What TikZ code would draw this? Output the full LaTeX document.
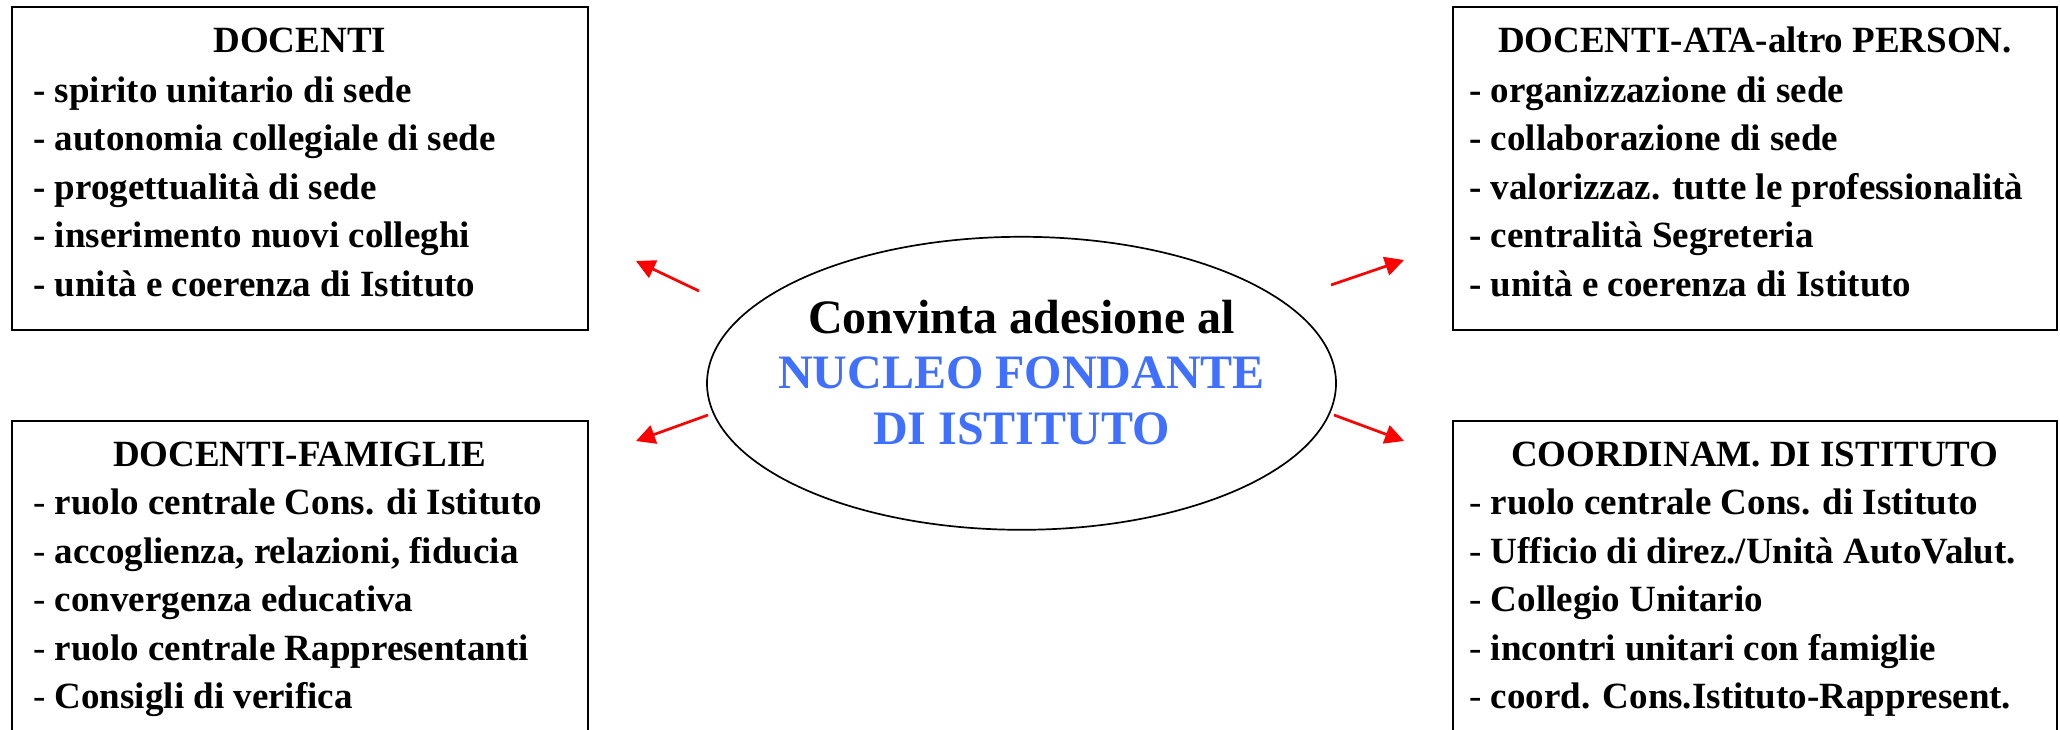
\documentclass[tikz,border=0pt]{standalone}
\usepackage{fontspec}
\setmainfont{Liberation Serif}
\usetikzlibrary{calc,arrows.meta,shapes.geometric}
\definecolor{nucleoblue}{RGB}{64,112,255}
\definecolor{spokered}{RGB}{255,0,0}
\begin{document}
\begin{tikzpicture}[x=1pt,y=-1pt,
  panel/.style={draw=black, line width=2pt, rectangle, inner sep=0pt, anchor=north west},
  paneltitle/.style={inner sep=0pt, anchor=base, font=\fontsize{37}{48}\selectfont\bfseries},
  paneltext/.style={inner sep=0pt, anchor=base west, align=left, font=\fontsize{37}{48.5}\selectfont\bfseries},
  core/.style={ellipse, draw=black, line width=1.7pt, minimum width=629pt, minimum height=293pt, inner sep=0pt},
  coretext/.style={inner sep=0pt, anchor=base, align=center, font=\fontsize{48}{55.5}\selectfont\bfseries},
  spoke/.style={draw=spokered, line width=2.7pt, -{Triangle[length=19pt,width=19pt]}}
]
\useasboundingbox (0,0) rectangle (2060,730);
\clip (0,0) rectangle (2060,730);

% boxes
\node[panel, minimum width=576.5pt, minimum height=322pt] (tlbox) at (10.5,6.5) {};
\node[panel, minimum width=576.5pt, minimum height=330pt] (blbox) at (10.5,420) {};
\node[panel, minimum width=604pt, minimum height=322pt] (trbox) at (1452,6.5) {};
\node[panel, minimum width=604pt, minimum height=330pt] (brbox) at (1452,420) {};

% titles
\node[paneltitle] (tltitle) at ($(tlbox.north)+(0,46)$) {DOCENTI};
\node[paneltitle] (bltitle) at ($(blbox.north)+(0,46)$) {DOCENTI-FAMIGLIE};
\node[paneltitle] (trtitle) at ($(trbox.north)+(0,46)$) {DOCENTI-ATA-altro PERSON.};
\node[paneltitle] (brtitle) at ($(brbox.north)+(0,46)$) {COORDINAM. DI ISTITUTO};

% lists (base anchor = baseline of the last line)
\node[paneltext] (tllist) at ($(tlbox.north west)+(22.5,289.5)$) {%
- spirito unitario di sede\\
- autonomia collegiale di sede\\
- progettualità di sede\\
- inserimento nuovi colleghi\\
- unità e coerenza di Istituto};
\node[paneltext] (trlist) at ($(trbox.north west)+(17,289.5)$) {%
- organizzazione di sede\\
- collaborazione di sede\\
- valorizzaz. tutte le professionalità\\
- centralità Segreteria\\
- unità e coerenza di Istituto};
\node[paneltext] (bllist) at ($(blbox.north west)+(22.5,288.5)$) {%
{\mdseries -} ruolo centrale Cons. di Istituto\\
{\mdseries -} accoglienza, relazioni, fiducia\\
{\mdseries -} convergenza educativa\\
{\mdseries -} ruolo centrale Rappresentanti\\
{\mdseries -} Consigli di verifica};
\node[paneltext] (brlist) at ($(brbox.north west)+(17,288.5)$) {%
{\mdseries -} ruolo centrale Cons. di Istituto\\
{\mdseries -} Ufficio di direz./Unità AutoValut.\\
{\mdseries -} Collegio Unitario\\
{\mdseries -} incontri unitari con famiglie\\
{\mdseries -} coord. Cons.Istituto-Rappresent.};

% centre
\node[core] (core) at (1021.5,383.3) {};
\node[coretext] (coretxt) at ($(core.center)+(0,61)$) {Convinta adesione al\\
\textcolor{nucleoblue}{NUCLEO FONDANTE}\\
\textcolor{nucleoblue}{DI ISTITUTO}};

% arrows
\coordinate (tlfrom) at (699,291);
\coordinate (tlto) at (636,261);
\coordinate (blfrom) at (708,415);
\coordinate (blto) at (636,441);
\coordinate (trfrom) at (1331,285);
\coordinate (trto) at (1404,260);
\coordinate (brfrom) at (1334,415);
\coordinate (brto) at (1404,441);
\draw[spoke] (tlfrom) -- (tlto);
\draw[spoke] (blfrom) -- (blto);
\draw[spoke] (trfrom) -- (trto);
\draw[spoke] (brfrom) -- (brto);
\end{tikzpicture}
\end{document}
